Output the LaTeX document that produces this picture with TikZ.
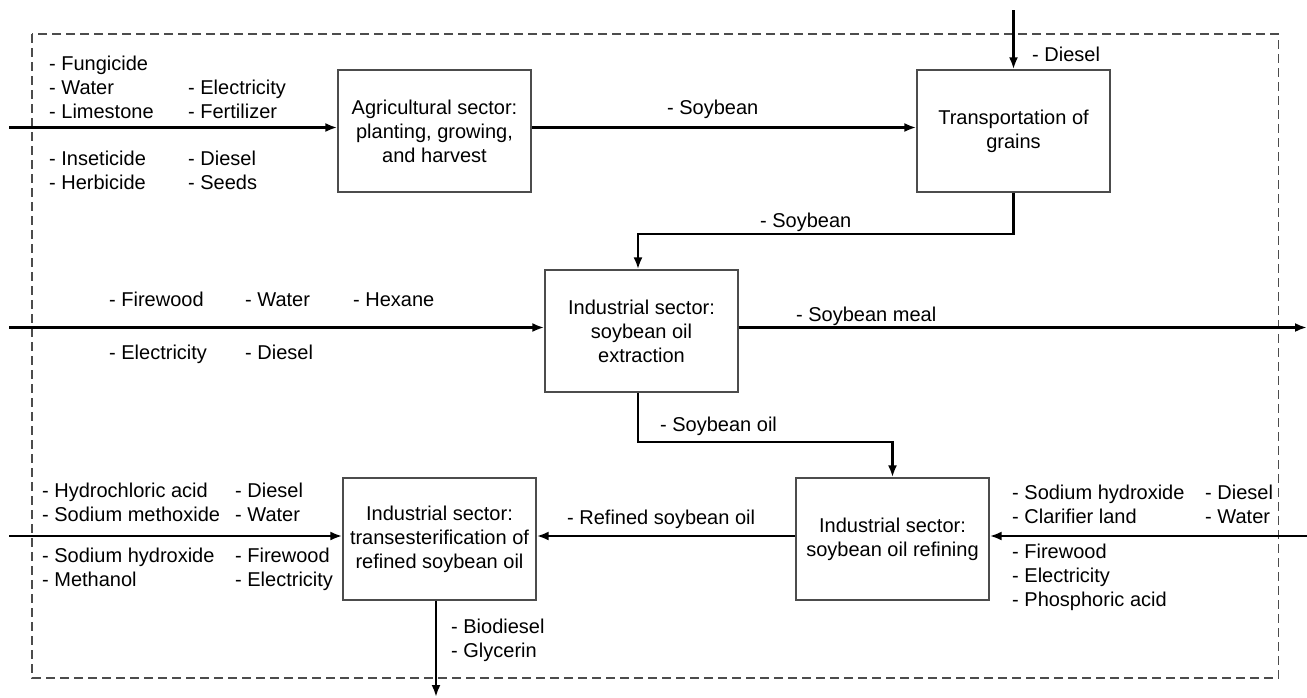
\documentclass[tikz,border=0pt]{standalone}
\usepackage{fontspec}
\setmainfont{Liberation Sans}
\usetikzlibrary{arrows.meta}
\begin{document}
\begin{tikzpicture}[x=1pt,y=-1pt,
  box/.style={draw=black!70, line width=1.3pt, minimum width=193pt, minimum height=122pt, align=center, inner sep=0pt, font=\fontsize{20}{24}\selectfont},
  lbl/.style={anchor=base west, inner sep=0pt, font=\fontsize{20}{24}\selectfont},
  flow/.style={line width=2.4pt, -{Latex[length=12pt,width=9pt]}},
  frame/.style={draw=black!70, line width=1.1pt, dash pattern=on 9pt off 5pt}]
\useasboundingbox (0,0) rectangle (1307,697);
\draw[frame] (32,34) rectangle (1278.5,678);

\node[box] (agri) at (434.5,131) {Agricultural sector:\\planting, growing,\\and harvest};
\node[box] (trans) at (1013.5,131) {Transportation of\\grains};
\node[box] (extr) at (641.5,331) {Industrial sector:\\soybean oil\\extraction};
\node[box] (refi) at (892.5,539) {Industrial sector:\\soybean oil refining};
\node[box] (tran) at (439.5,539) {Industrial sector:\\transesterification of\\refined soybean oil};

\coordinate (in1) at (9,127.5);
\coordinate (dtop) at (1013.5,10);
\coordinate (c1) at (1013.5,234);
\coordinate (c2) at (638,234);
\coordinate (in3) at (9,327.5);
\coordinate (out3) at (1307,327.5);
\coordinate (c3) at (638,442);
\coordinate (c4) at (892.5,442);
\coordinate (in4) at (1307,536);
\coordinate (in5) at (9,536);
\coordinate (out5) at (436,697);

\draw[flow] (in1) -- (in1 -| agri.west);
\draw[flow] (agri.east |- in1) -- (trans.west |- in1);
\draw[flow] (dtop) -- (trans.north);
\draw[flow] (trans.south) -- (c1) -- (c2) -- (c2 |- extr.north);
\draw[flow] (in3) -- (in3 -| extr.west);
\draw[flow] (extr.east |- out3) -- (out3);
\draw[flow] (c3 |- extr.south) -- (c3) -- (c4) -- (refi.north);
\draw[flow] (in4) -- (in4 -| refi.east);
\draw[flow] (refi.west |- in4) -- (tran.east |- in4);
\draw[flow] (in5) -- (in5 -| tran.west);
\draw[flow] (out5 |- tran.south) -- (out5);

% row 1 inputs
\node[lbl] (l1) at (49,70) {- Fungicide};
\node[lbl] (l2) at (49,94) {- Water};
\node[lbl] (l3) at (49,118) {- Limestone};
\node[lbl] (l4) at (49,165) {- Inseticide};
\node[lbl] (l5) at (49,189) {- Herbicide};
\node[lbl] (l6) at (188,94) {- Electricity};
\node[lbl] (l7) at (188,118) {- Fertilizer};
\node[lbl] (l8) at (188,165) {- Diesel};
\node[lbl] (l9) at (188,189) {- Seeds};
\node[lbl] (l10) at (667,114) {- Soybean};
\node[lbl] (l11) at (1032,61) {- Diesel};
\node[lbl] (l12) at (760,227) {- Soybean};
% row 2
\node[lbl] (l13) at (109,306) {- Firewood};
\node[lbl] (l14) at (245,306) {- Water};
\node[lbl] (l15) at (353,306) {- Hexane};
\node[lbl] (l16) at (109,359) {- Electricity};
\node[lbl] (l17) at (245,359) {- Diesel};
\node[lbl] (l18) at (796,321) {- Soybean meal};
\node[lbl] (l19) at (660,431) {- Soybean oil};
% row 3 left
\node[lbl] (l20) at (42,497) {- Hydrochloric acid};
\node[lbl] (l21) at (42,521) {- Sodium methoxide};
\node[lbl] (l22) at (42,562) {- Sodium hydroxide};
\node[lbl] (l23) at (42,586) {- Methanol};
\node[lbl] (l24) at (235,497) {- Diesel};
\node[lbl] (l25) at (235,521) {- Water};
\node[lbl] (l26) at (235,562) {- Firewood};
\node[lbl] (l27) at (235,586) {- Electricity};
\node[lbl] (l28) at (567,524) {- Refined soybean oil};
\node[lbl] (l29) at (451,633) {- Biodiesel};
\node[lbl] (l30) at (451,657) {- Glycerin};
% row 3 right
\node[lbl] (l31) at (1012,499) {- Sodium hydroxide};
\node[lbl] (l32) at (1012,523) {- Clarifier land};
\node[lbl] (l33) at (1205,499) {- Diesel};
\node[lbl] (l34) at (1205,523) {- Water};
\node[lbl] (l35) at (1012,558) {- Firewood};
\node[lbl] (l36) at (1012,582) {- Electricity};
\node[lbl] (l37) at (1012,606) {- Phosphoric acid};
\end{tikzpicture}
\end{document}
